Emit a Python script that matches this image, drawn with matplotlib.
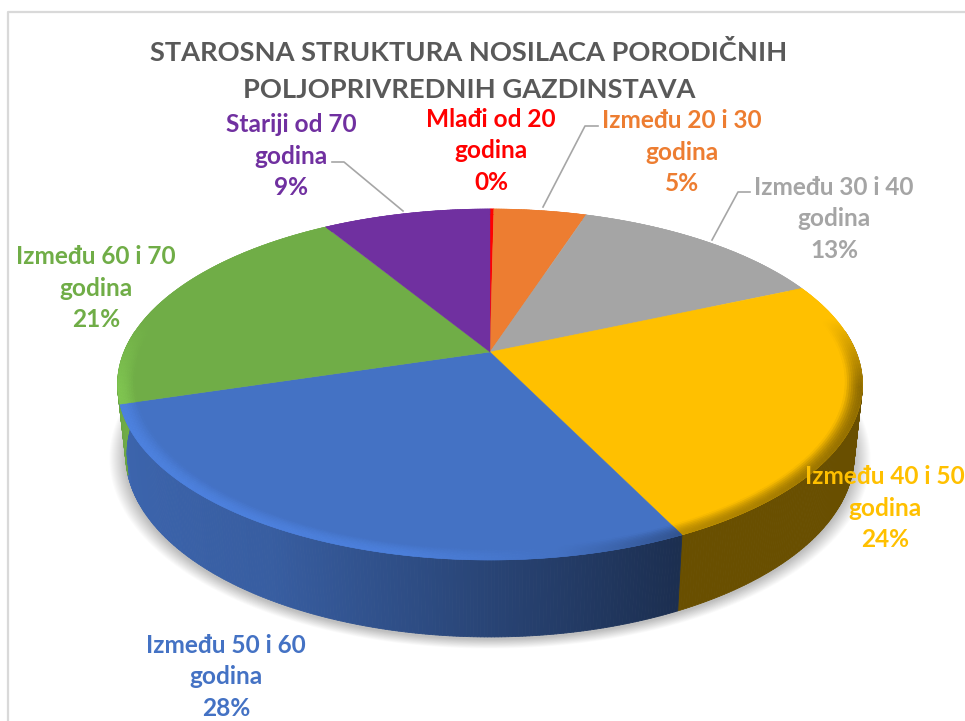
import numpy as np
import matplotlib
matplotlib.use('Agg')
from matplotlib import pyplot as plt
from matplotlib.collections import PolyCollection
from matplotlib.colors import to_rgb

plt.rcParams['font.family'] = ['Lato', 'DejaVu Sans']

title = "STAROSNA STRUKTURA NOSILACA PORODIČNIH\nPOLJOPRIVREDNIH GAZDINSTAVA"
categories = ["Mlađi od 20", "Između 20 i 30", "Između 30 i 40", "Između 40 i 50",
              "Između 50 i 60", "Između 60 i 70", "Stariji od 70"]
values = [0.2, 4.8, 13.4, 24.4, 27.5, 21.0, 8.7]
colors = ['#FF0000', '#ED7D31', '#A5A5A5', '#FFC000', '#4472C4', '#70AD47', '#7030A0']
label_x = [491, 682, 834, 885, 226, 96, 291]
label_y = [151, 152, 219, 508, 677, 288, 156]

# leader lines, only three labels have one
leaders = [([332, 344, 403], [162, 162, 211]),
           ([598, 585, 543], [126, 126, 207]),
           ([750, 738, 712], [192, 192, 240])]


# circle of the pie -> picture, with a bit of perspective
def project(theta, r=1.0, bottom=False):
    u = r * np.sin(theta)
    v = r * np.cos(theta)
    w = 1 + 0.185 * v
    if bottom:
        return 490 + 358 * u / w, 421 - 176 * v / w
    return 490 + 366 * u / w, 352 - 169.5 * v / w


def shade(col, f):
    return tuple(np.clip(np.array(to_rgb(col)) * f, 0, 1))


fig = plt.figure(figsize=(9.65, 7.21), dpi=100)
ax = fig.add_axes([0, 0, 1, 1])
ax.set_xlim(0, 965)
ax.set_ylim(721, 0)
ax.axis('off')

# frame of the chart
ax.plot([8, 8, 965], [721, 12, 12], c='#D9D9D9', lw=1.6)

edges = np.cumsum([0] + values) / sum(values) * 2 * np.pi

# soft shadow under the disc
t = np.linspace(0, 2 * np.pi, 240)
for i in range(16):
    sx, sy = project(t, bottom=True)
    grow = 1 + 0.0028 * (16 - i)
    ax.fill(490 + (sx - 490) * grow, 421 + (sy - 421) * grow + 2,
            c='k', alpha=0.014, lw=0, zorder=1)

# side of the disc, only the part turned to the front
for i, col in enumerate(colors):
    t = np.linspace(edges[i], edges[i + 1], max(3, int(values[i] * 8)))
    tx, ty = project(t)
    bx, by = project(t, bottom=True)
    polys, cols = [], []
    for j in range(len(t) - 1):
        if np.cos(t[j]) > 0.12 and np.cos(t[j + 1]) > 0.12:
            continue
        polys.append([(tx[j], ty[j]), (tx[j + 1], ty[j + 1]), (bx[j + 1], by[j + 1]), (bx[j], by[j])])
        cols.append(shade(col, np.interp(np.sin(t[j]), [-1, -0.93, -0.5, 0.43, 1], [1.0, 0.88, 0.82, 0.41, 0.41])))
    if polys:
        ax.add_collection(PolyCollection(polys, facecolors=cols, edgecolors=cols, linewidths=0.6, zorder=2))

# top of the disc
for i, col in enumerate(colors):
    t = np.linspace(edges[i], edges[i + 1], max(3, int(values[i] * 8)))
    x, y = project(t)
    ax.fill(np.r_[490, x], np.r_[352, y], c=col, lw=0.3, zorder=3)

# bevel along the front rim
rings = np.linspace(0.955, 1.0, 9)
for i, col in enumerate(colors):
    t = np.linspace(edges[i], edges[i + 1], max(3, int(values[i] * 8)))
    polys, cols = [], []
    for j in range(len(t) - 1):
        tm = (t[j] + t[j + 1]) / 2
        weight = np.clip((0.2 - np.cos(tm)) / 0.4, 0, 1)
        rim = np.interp(np.sin(tm), [-1, -0.2, 0.15, 0.45, 1], [1.14, 1.12, 1.0, 0.72, 0.55])
        for k in range(len(rings) - 1):
            p = np.sin((k + 0.5) / (len(rings) - 1) * np.pi / 2)
            f = 1 + (rim - 1) * weight * p
            x0, y0 = project(t[j:j + 2], rings[k])
            x1, y1 = project(t[j:j + 2], rings[k + 1])
            polys.append([(x0[0], y0[0]), (x0[1], y0[1]), (x1[1], y1[1]), (x1[0], y1[0])])
            cols.append(shade(col, f))
    ax.add_collection(PolyCollection(polys, facecolors=cols, edgecolors=cols, linewidths=0.4, zorder=4))

for lx, ly in leaders:
    ax.plot(lx, ly, c='#A6A6A6', lw=1.2, zorder=5)

ax.text(469, 71, title, ha='center', va='center', fontsize=19.6, fontweight='bold',
        color='#595959', linespacing=1.67, zorder=6)

for i, cat in enumerate(categories):
    pct = round(values[i] / sum(values) * 100)
    ax.text(label_x[i], label_y[i], "%s\ngodina\n%d%%" % (cat, pct), ha='center', va='center',
            fontsize=17.6, fontweight='bold', color=colors[i], linespacing=1.46, zorder=6)

fig.savefig('out.png', dpi=100)
